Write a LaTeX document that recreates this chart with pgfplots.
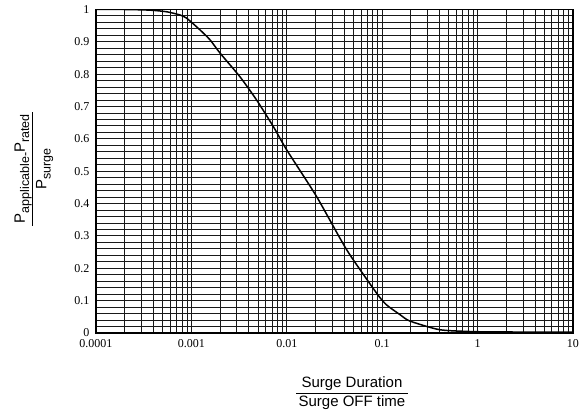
\documentclass[border=0pt]{standalone}
\usepackage{pgfplots}
\pgfplotsset{compat=1.18}
\usepackage{fontspec}
\setmainfont{Liberation Serif}
\newfontfamily\arial{Liberation Sans}
\newcommand{\sub}[1]{\raisebox{-0.28em}{\fontsize{12.5bp}{12.5bp}\selectfont #1}}
\begin{document}
\begin{tikzpicture}
\begin{axis}[
  scale only axis,
  width=477bp, height=323.5bp,
  xmode=log,
  xmin=0.0001, xmax=10,
  ymin=0, ymax=1,
  xtick={0.0001,0.001,0.01,0.1,1,10},
  xticklabels={0.0001,0.001,0.01,0.1,1,10},
  ytick={0,0.1,0.2,0.3,0.4,0.5,0.6,0.7,0.8,0.9,1},
  yticklabels={0,0.1,0.2,0.3,0.4,0.5,0.6,0.7,0.8,0.9,1},
  minor y tick num=4,
  grid=both,
  major grid style={black!90, line width=1bp},
  minor grid style={black!90, line width=1bp},
  axis line style={black, line width=1.2bp},
  tick style={draw=none},
  tick label style={font=\fontsize{12bp}{13bp}\selectfont},
  xticklabel style={yshift=-3bp},
  yticklabel style={xshift=-3bp},
  /pgf/number format/assume math mode=true,
  every axis x label/.style={at={([shift={(17.5bp,-60bp)}]axis description cs:0.5,0)}, anchor=center},
  every axis y label/.style={at={([shift={(-64bp,2.5bp)}]axis description cs:0,0.5)}, anchor=center, rotate=90},
  xlabel={\arial\fontsize{15bp}{17bp}\selectfont\renewcommand{\arraystretch}{1.1}\begin{tabular}{@{\,}c@{\,}}Surge Duration\\\hline Surge OFF time\end{tabular}},
  ylabel={\arial\fontsize{15bp}{17bp}\selectfont\renewcommand{\arraystretch}{1.2}\begin{tabular}{@{\,}c@{\,}}P\sub{applicable-}P\sub{rated}\\\hline P\sub{surge}\end{tabular}},
]
\addplot[black, line width=1.5bp, smooth, tension=0.4] coordinates {
(0.0001,1.0)
(0.000201,1.0)
(0.000368,0.998)
(0.00055,0.993)
(0.00076,0.983)
(0.000893,0.973)
(0.00123,0.937)
(0.00157,0.906)
(0.002,0.865)
(0.00323,0.792)
(0.00483,0.720)
(0.00723,0.638)
(0.00998,0.566)
(0.0206,0.421)
(0.0425,0.257)
(0.0875,0.123)
(0.111,0.087)
(0.155,0.056)
(0.195,0.037)
(0.404,0.010)
(0.98,0.004)
(3,0.003)
(10,0.003)
};
\end{axis}
\pgfresetboundingbox
\path ([shift={(-96bp,-81bp)}]current axis.south west) rectangle ([shift={(13bp,9.5bp)}]current axis.north east);
\end{tikzpicture}
\end{document}
